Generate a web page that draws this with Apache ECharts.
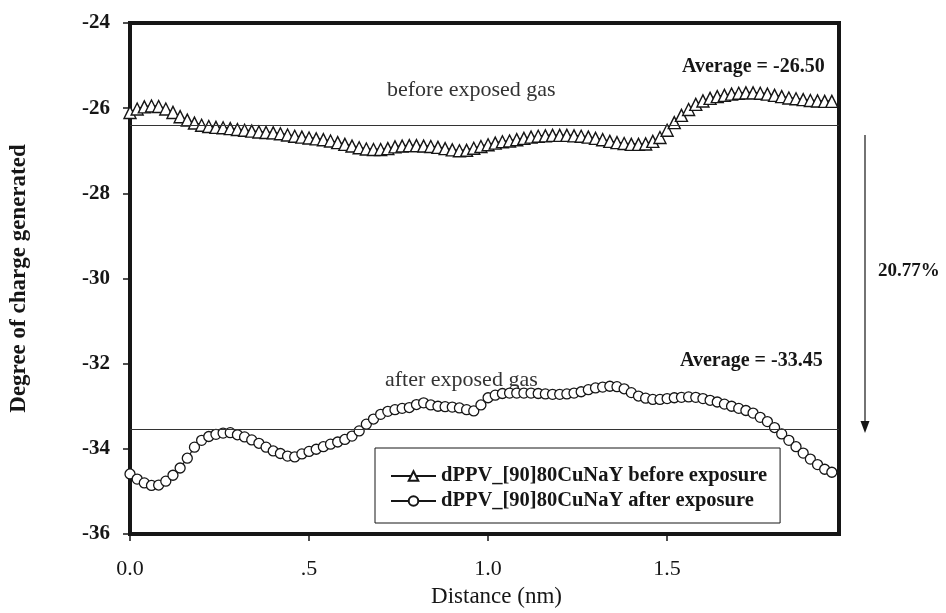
<!DOCTYPE html>
<html>
<head>
<meta charset="utf-8">
<script src="https://cdn.jsdelivr.net/npm/echarts@6/dist/echarts.min.js"></script>
<style>
html,body{margin:0;padding:0;background:#fff;}
#chart{width:946px;height:613px;}
</style>
</head>
<body>
<div id="chart"></div>
<script>
// ---- data ----
const distance = [0.00,0.02,0.04,0.06,0.08,0.10,0.12,0.14,0.16,0.18,0.20,0.22,0.24,0.26,0.28,0.30,0.32,0.34,0.36,0.38,
  0.40,0.42,0.44,0.46,0.48,0.50,0.52,0.54,0.56,0.58,0.60,0.62,0.64,0.66,0.68,0.70,0.72,0.74,0.76,0.78,
  0.80,0.82,0.84,0.86,0.88,0.90,0.92,0.94,0.96,0.98,1.00,1.02,1.04,1.06,1.08,1.10,1.12,1.14,1.16,1.18,
  1.20,1.22,1.24,1.26,1.28,1.30,1.32,1.34,1.36,1.38,1.40,1.42,1.44,1.46,1.48,1.50,1.52,1.54,1.56,1.58,
  1.60,1.62,1.64,1.66,1.68,1.70,1.72,1.74,1.76,1.78,1.80,1.82,1.84,1.86,1.88,1.90,1.92,1.94,1.96];
const beforeExposure = [-26.10,-26.02,-25.97,-25.95,-25.96,-26.02,-26.10,-26.20,-26.28,-26.35,-26.40,-26.43,-26.45,-26.46,-26.48,-26.50,-26.52,-26.54,-26.56,-26.57,
  -26.58,-26.60,-26.63,-26.66,-26.68,-26.70,-26.72,-26.74,-26.77,-26.81,-26.85,-26.89,-26.93,-26.96,-26.97,-26.97,-26.95,-26.91,-26.89,-26.88,
  -26.88,-26.89,-26.90,-26.92,-26.95,-26.98,-27.00,-26.99,-26.94,-26.90,-26.86,-26.82,-26.79,-26.77,-26.74,-26.71,-26.68,-26.66,-26.65,-26.64,
  -26.64,-26.64,-26.65,-26.66,-26.68,-26.71,-26.74,-26.78,-26.81,-26.83,-26.85,-26.85,-26.84,-26.78,-26.69,-26.52,-26.34,-26.17,-26.03,-25.91,
  -25.83,-25.77,-25.73,-25.70,-25.67,-25.65,-25.64,-25.64,-25.65,-25.67,-25.70,-25.73,-25.76,-25.78,-25.80,-25.82,-25.83,-25.84,-25.84];
const afterExposure = [-34.59,-34.71,-34.80,-34.86,-34.85,-34.76,-34.62,-34.45,-34.22,-33.96,-33.80,-33.71,-33.66,-33.63,-33.62,-33.67,-33.72,-33.79,-33.87,-33.96,
  -34.05,-34.11,-34.17,-34.19,-34.12,-34.06,-34.01,-33.95,-33.89,-33.84,-33.78,-33.70,-33.58,-33.42,-33.30,-33.19,-33.12,-33.08,-33.05,-33.03,
  -32.96,-32.92,-32.97,-33.00,-33.01,-33.02,-33.04,-33.08,-33.11,-32.97,-32.80,-32.74,-32.70,-32.69,-32.69,-32.69,-32.69,-32.70,-32.71,-32.72,
  -32.72,-32.71,-32.69,-32.66,-32.61,-32.57,-32.55,-32.53,-32.54,-32.59,-32.68,-32.76,-32.81,-32.84,-32.84,-32.82,-32.80,-32.79,-32.78,-32.79,
  -32.82,-32.86,-32.90,-32.95,-33.00,-33.05,-33.10,-33.16,-33.26,-33.36,-33.50,-33.65,-33.80,-33.95,-34.10,-34.24,-34.37,-34.48,-34.55];
const averageLines = [-26.41, -33.55];
const seriesNames = ['dPPV_[90]80CuNaY before exposure', 'dPPV_[90]80CuNaY after exposure'];
const xTickLabels = {0: '0.0', 0.5: '.5', 1: '1.0', 1.5: '1.5'};
const annotations = ['Average = -26.50', 'before exposed gas', 'Average = -33.45', 'after exposed gas', '20.77%'];

// ---- chart ----
const FONT = "'Liberation Serif','Times New Roman',serif";
const INK = '#161616';
const chart = echarts.init(document.getElementById('chart'), null, {renderer: 'canvas'});

function pairs(ys) { return distance.map((x, i) => [x, ys[i]]); }

const option = {
  animation: false,
  backgroundColor: '#fff',
  grid: {left: 130, top: 23, right: 107, bottom: 76, show: true, borderColor: INK, borderWidth: 4, backgroundColor: 'transparent'},
  xAxis: {
    type: 'value', min: 0, max: 1.98, interval: 0.5,
    name: 'Distance (nm)', nameLocation: 'middle', nameGap: 51,
    nameTextStyle: {fontFamily: FONT, fontSize: 23, color: INK, padding: [0, 0, 0, 24]},
    axisLine: {show: false},
    axisTick: {show: true, inside: false, length: 7, lineStyle: {color: INK, width: 1.5}},
    splitLine: {show: false},
    axisLabel: {
      margin: 24, fontFamily: FONT, fontSize: 22, color: INK,
      showMaxLabel: false,
      formatter: v => (xTickLabels[v] !== undefined ? xTickLabels[v] : '')
    }
  },
  yAxis: {
    type: 'value', min: -36, max: -24, interval: 2,
    name: 'Degree of charge generated', nameLocation: 'middle', nameGap: 99, nameRotate: 90,
    nameTextStyle: {fontFamily: FONT, fontSize: 23, fontWeight: 'bold', color: INK},
    axisLine: {show: false},
    axisTick: {show: true, inside: false, length: 7, lineStyle: {color: INK, width: 1.5}},
    splitLine: {show: false},
    axisLabel: {margin: 20, fontFamily: FONT, fontSize: 21, fontWeight: 'bold', color: INK}
  },
  legend: {
    orient: 'vertical', left: 375, top: 448,
    padding: [17, 13, 11, 15], itemGap: 3,
    itemWidth: 45, itemHeight: 12,
    borderColor: INK, borderWidth: 1, backgroundColor: '#fff',
    textStyle: {fontFamily: FONT, fontSize: 20.5, fontWeight: 'bold', color: INK, lineHeight: 22},
    data: seriesNames
  },
  series: [
    {
      name: seriesNames[0], type: 'line', data: pairs(beforeExposure), clip: false,
      symbol: 'triangle', symbolSize: [12, 12], showAllSymbol: true,
      itemStyle: {color: '#fff', borderColor: INK, borderWidth: 1.4},
      lineStyle: {color: INK, width: 2},
      markLine: {
        silent: true, symbol: 'none', label: {show: false},
        lineStyle: {color: '#333', width: 1.2, type: 'solid'},
        data: [{yAxis: averageLines[0]}]
      }
    },
    {
      name: seriesNames[1], type: 'line', data: pairs(afterExposure), clip: false,
      symbol: 'circle', symbolSize: 10, showAllSymbol: true,
      itemStyle: {color: '#fff', borderColor: INK, borderWidth: 1.3},
      lineStyle: {color: INK, width: 1.2},
      markLine: {
        silent: true, symbol: 'none', label: {show: false},
        lineStyle: {color: '#333', width: 1.2, type: 'solid'},
        data: [{yAxis: averageLines[1]}]
      }
    }
  ],
  graphic: [
    {type: 'text', left: 682, top: 57, style: {text: annotations[0], font: `bold 20px ${FONT}`, fill: INK}},
    {type: 'text', left: 387, top: 79, style: {text: annotations[1], font: `22px ${FONT}`, fill: '#333'}},
    {type: 'text', left: 680, top: 351, style: {text: annotations[2], font: `bold 20px ${FONT}`, fill: INK}},
    {type: 'text', left: 385, top: 369, style: {text: annotations[3], font: `22px ${FONT}`, fill: '#333'}},
    {type: 'text', left: 878, top: 262, style: {text: annotations[4], font: `bold 19px ${FONT}`, fill: INK}},
    {type: 'line', shape: {x1: 865, y1: 135, x2: 865, y2: 424}, style: {stroke: INK, lineWidth: 1.2}},
    {type: 'polygon', shape: {points: [[860.5, 421], [869.5, 421], [865, 433]]}, style: {fill: INK}}
  ]
};
chart.setOption(option);
</script>
</body>
</html>
